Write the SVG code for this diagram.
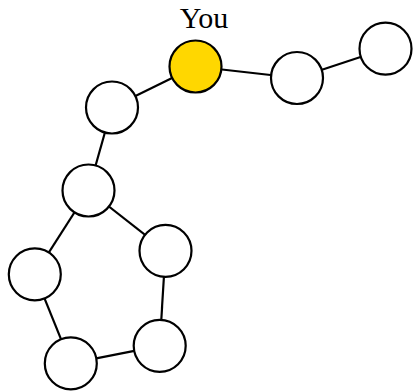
<svg xmlns="http://www.w3.org/2000/svg" width="413" height="391" viewBox="0 0 413 391">
<style>
.n{fill:#fff;stroke:#000;stroke-width:2.2}
.y{fill:#ffd700}
.e{stroke:#000;stroke-width:2.2;fill:none}
text{font-family:"Liberation Serif",serif;font-size:30px;fill:#000}
</style>
<rect width="413" height="391" fill="#fff"/>
<g id="edges">
<line class="e" x1="195.5" y1="66.5" x2="112" y2="107.5"/>
<line class="e" x1="195.5" y1="66.5" x2="297" y2="78"/>
<line class="e" x1="297" y1="78" x2="385.5" y2="48.7"/>
<line class="e" x1="112" y1="107.5" x2="88.5" y2="190.5"/>
<line class="e" x1="88.5" y1="190.5" x2="165.5" y2="250.8"/>
<line class="e" x1="88.5" y1="190.5" x2="34.8" y2="274.3"/>
<line class="e" x1="34.8" y1="274.3" x2="70.8" y2="363.4"/>
<line class="e" x1="70.8" y1="363.4" x2="159.7" y2="345.8"/>
<line class="e" x1="159.7" y1="345.8" x2="165.5" y2="250.8"/>
</g>
<g id="you"><circle class="n y" cx="195.5" cy="66.5" r="26"/><text x="204" y="27.5" text-anchor="middle">You</text></g>
<g id="n1"><circle class="n" cx="297" cy="78" r="26"/></g>
<g id="n2"><circle class="n" cx="385.5" cy="48.7" r="26"/></g>
<g id="n3"><circle class="n" cx="112" cy="107.5" r="26"/></g>
<g id="n4"><circle class="n" cx="88.5" cy="190.5" r="26"/></g>
<g id="n5"><circle class="n" cx="165.5" cy="250.8" r="26"/></g>
<g id="n6"><circle class="n" cx="34.8" cy="274.3" r="26"/></g>
<g id="n7"><circle class="n" cx="159.7" cy="345.8" r="26"/></g>
<g id="n8"><circle class="n" cx="70.8" cy="363.4" r="26"/></g>
</svg>
